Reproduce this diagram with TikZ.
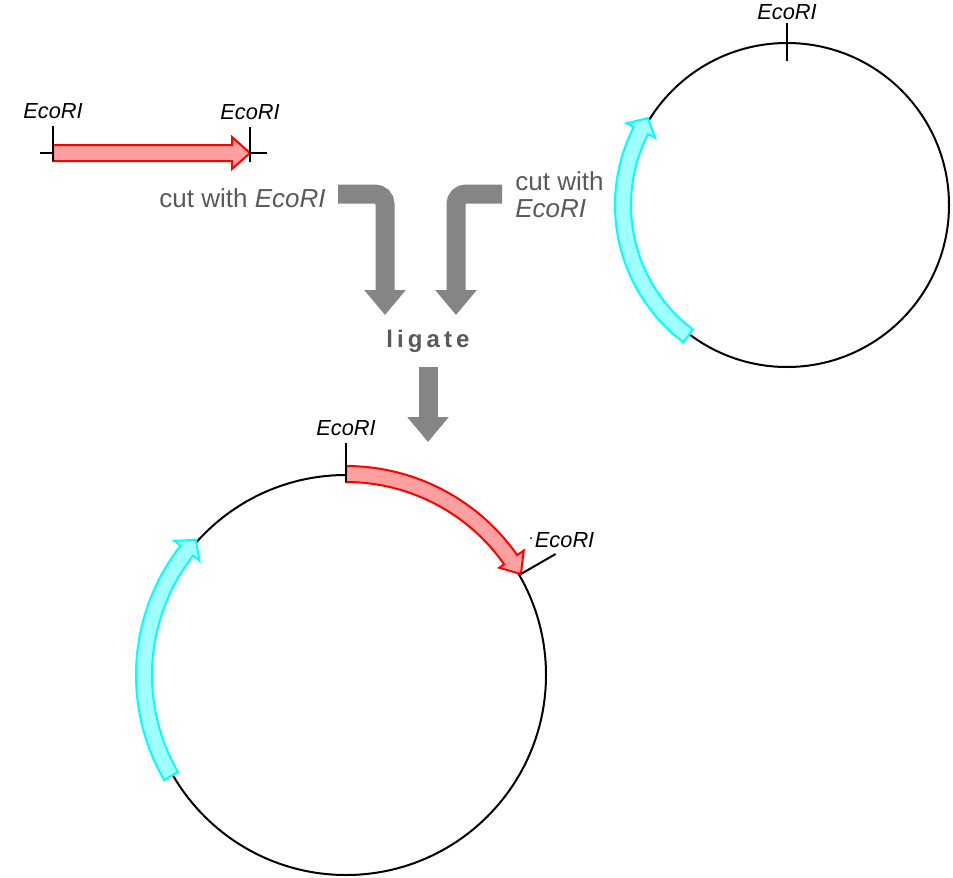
\documentclass[tikz,border=0pt]{standalone}
\usepackage{fontspec}
\setmainfont{Liberation Sans}
\usepackage{xcolor}
\usepackage{tikz}
\usetikzlibrary{arrows.meta,positioning}
\definecolor{arrowgray}{RGB}{133,133,133}
\definecolor{textgray}{RGB}{89,89,89}
\definecolor{insertdraw}{RGB}{255,0,0}
\definecolor{insertfill}{RGB}{255,160,160}
\definecolor{genedraw}{RGB}{0,255,255}
\definecolor{genefill}{RGB}{160,255,255}
\tikzset{
    every node/.style={font=\fontsize{10.9}{12}\selectfont\itshape, inner sep=0pt},
    plasmid/.style={draw=black, line width=1pt},
    site/.style={draw=black, line width=1pt},
    insert/.style={draw=insertdraw, fill=insertfill, line width=1pt},
    gene/.style={draw=genedraw, fill=genefill, line width=1pt},
    bigarrow/.style={draw=arrowgray, line width=9.5pt, rounded corners=5pt,
        -{Triangle[width=20pt,length=12.5pt]}},
    steptext/.style={text=textgray, font=\fontsize{13}{13.5}\selectfont},
    ligtext/.style={text=textgray, font=\fontsize{12}{14}\selectfont\bfseries\addfontfeature{LetterSpace=17}}
}

\begin{document}
\begin{tikzpicture}[x=0.5pt,y=0.5pt]
    \useasboundingbox (0,0) rectangle (953,-878);

    % Linear fragment with EcoRI ends
    \draw[site] (40,-153) -- (267,-153);
    \draw[insert] (53,-145) -- (232,-145) -- (232,-137) -- (250,-153)
        -- (232,-169) -- (232,-161) -- (53,-161) -- cycle;
    \draw[site] (53,-161) -- (53,-126) node[above=3pt] (fragA) {EcoRI};
    \draw[site] (250,-162) -- (250,-127) node[above=3pt] (fragB) {EcoRI};

    % Vector plasmid
    \begin{scope}[shift={(787,-205)}]
        \draw[plasmid] (0,0) circle[radius=162];
        \draw[gene] (233:172) arc[start angle=233,end angle=153,radius=172]
            -- (153:180) -- (148:164) -- (153:148) -- (153:156)
            arc[start angle=153,end angle=233,radius=156] -- cycle;
        \draw[site] (90:144) -- (90:182) node[above=1pt] (vecsite) {EcoRI};
    \end{scope}

    % Cut and ligate steps
    \node[steptext, anchor=east] (cutfrag) at (326,-198) {cut with \textit{EcoRI}};
    \node[steptext, anchor=north west, align=left] (cutvec) at (515,-171) {cut with\\\textit{EcoRI}};
    \node[ligtext, anchor=base] (ligate) at (428,-347) {ligate};

    \coordinate (fromfrag) at (338,-194);
    \coordinate (fromvec) at (502,-194);
    \coordinate (intoL) at (385,-315);
    \coordinate (intoR) at (456,-315);
    \coordinate (ligout) at (428,-367);
    \coordinate (product) at (428,-442);
    \draw[bigarrow] (fromfrag) -| (intoL);
    \draw[bigarrow] (fromvec) -| (intoR);
    \draw[bigarrow] (ligout) -- (product);

    % Recombinant plasmid
    \begin{scope}[shift={(346,-675)}]
        \draw[plasmid] (0,0) circle[radius=200];
        \draw[gene] (210:210) arc[start angle=210,end angle=142,radius=210]
            -- (142:218) -- (138:202) -- (142:186) -- (142:194)
            arc[start angle=142,end angle=210,radius=194] -- cycle;
        \draw[insert] (90:209) arc[start angle=90,end angle=35,radius=209]
            -- (35:217) -- (30:202) -- (35:187) -- (35:193)
            arc[start angle=35,end angle=90,radius=193] -- cycle;
        \draw[site] (90:193) -- (90:232) node[above=3pt] (recsiteA) {EcoRI};
        \draw[site] (30:202) -- (30:242);
        \node (recsiteB) at (216,135) {\textsuperscript{.}EcoRI};
    \end{scope}
\end{tikzpicture}
\end{document}
